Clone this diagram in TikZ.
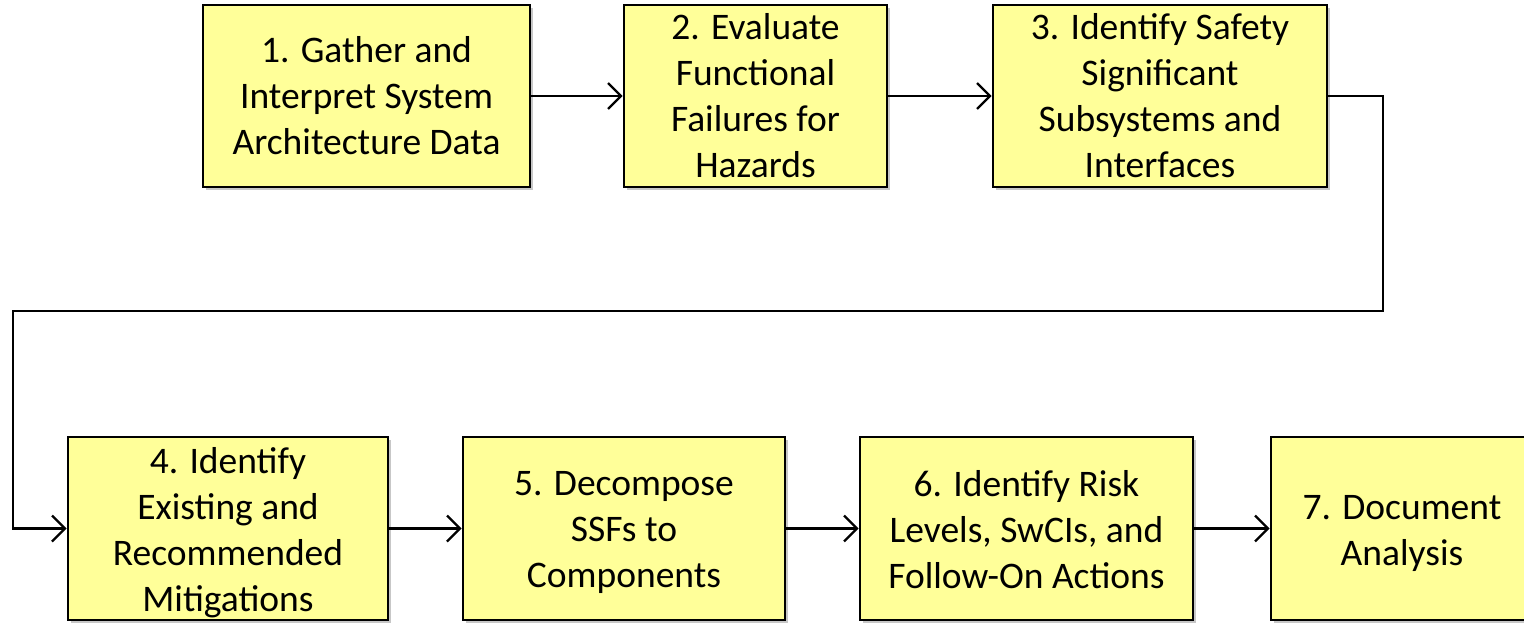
\documentclass[tikz,border=0pt]{standalone}
\usepackage{fontspec}
\setmainfont{Carlito}
\usetikzlibrary{arrows.meta,shadows}
\definecolor{boxfill}{HTML}{FFFF99}
\tikzset{
  steptext/.style={align=center, inner sep=0pt, font=\fontsize{37.5}{46}\selectfont},
  stepbox/.style={steptext, draw=black, line width=2.6pt, fill=boxfill,
    minimum height=182pt,
    drop shadow={shadow xshift=3pt, shadow yshift=-3pt, fill=black, opacity=0.22}},
  flow/.style={line width=2.4pt, -{Straight Barb[length=13pt, width=26pt, line width=2.4pt]}}
}
\begin{document}
\begin{tikzpicture}[x=1pt, y=-1pt]
  \useasboundingbox (0,0) rectangle (1524,622);
  \clip (0,0) rectangle (1524,622);
  % top row
  \node[stepbox, minimum width=327pt] (b1) at (366.5,96) {1. Gather and\\Interpret System\\Architecture Data};
  \node[stepbox, minimum width=263pt] (b2) at (755.5,96) {2. Evaluate\\Functional\\Failures for\\Hazards};
  \node[stepbox, minimum width=334pt] (b3) at (1160,96) {3. Identify Safety\\Significant\\Subsystems and\\Interfaces};
  % bottom row: boxes, with their texts set a little below the centre
  \node[stepbox, minimum width=320pt, minimum height=183pt] (b4) at (228,528.5) {};
  \node[stepbox, minimum width=322pt, minimum height=183pt] (b5) at (624,528.5) {};
  \node[stepbox, minimum width=333pt, minimum height=183pt] (b6) at (1026.5,528.5) {};
  \node[stepbox, minimum width=262pt, minimum height=183pt] (b7) at (1402,528.5) {};
  \node[steptext] (t4) at ([yshift=-4.5pt]b4.center) {4. Identify\\Existing and\\Recommended\\Mitigations};
  \node[steptext] (t5) at ([yshift=-4pt]b5.center) {5. Decompose\\SSFs to\\Components};
  \node[steptext] (t6) at ([yshift=-1pt]b6.center) {6. Identify Risk\\Levels, SwCIs, and\\Follow-On Actions};
  \node[steptext] (t7) at ([yshift=-4.5pt]b7.center) {7. Document\\Analysis};
  % return path from the top row to the bottom row
  \coordinate (turnR) at (1383,311);
  \coordinate (turnL) at (13,311);
  % connectors
  \draw[flow] (b1) -- (b2);
  \draw[flow] (b2) -- (b3);
  \draw[flow] (b3.east) -| (turnR) -- (turnL) |- (b4.west);
  \draw[flow] (b4) -- (b5);
  \draw[flow] (b5) -- (b6);
  \draw[flow] (b6) -- (b7);
\end{tikzpicture}
\end{document}
